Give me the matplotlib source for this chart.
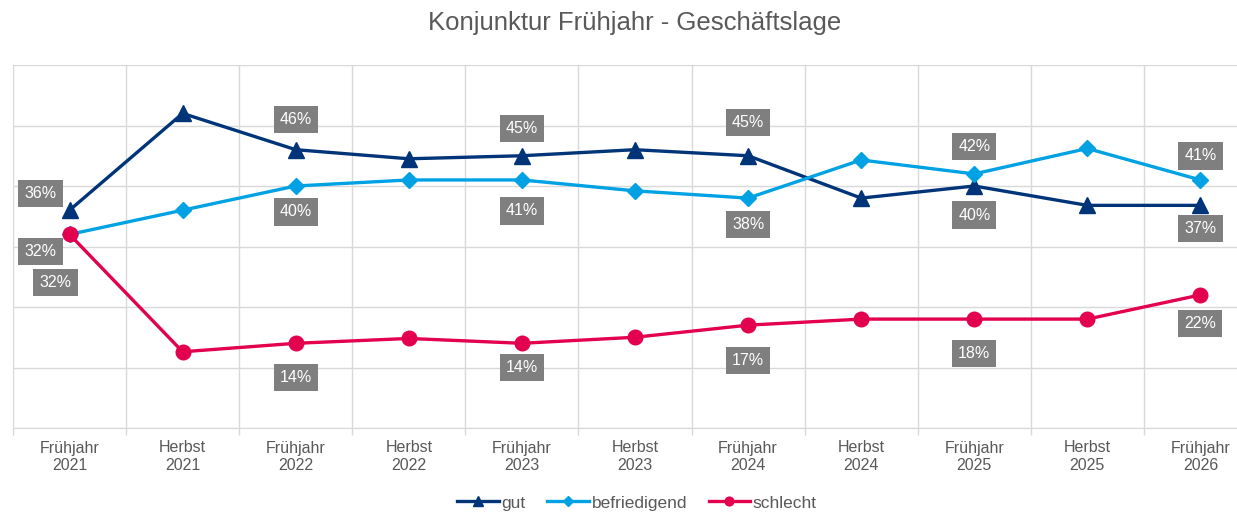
import numpy as np
import matplotlib.pyplot as plt
from matplotlib.ticker import FixedLocator

plt.rcParams['font.family'] = ['Liberation Sans', 'DejaVu Sans']

# data (percent)
categories = ["Frühjahr\n2021", "Herbst\n2021", "Frühjahr\n2022", "Herbst\n2022",
              "Frühjahr\n2023", "Herbst\n2023", "Frühjahr\n2024", "Herbst\n2024",
              "Frühjahr\n2025", "Herbst\n2025", "Frühjahr\n2026"]
gut = [36, 52, 46, 44.5, 45, 46, 45, 38, 40, 36.8, 36.8]
befriedigend = [32, 36, 40, 41, 41, 39.2, 38, 44.3, 42, 46.2, 41]
schlecht = [32, 12.6, 14, 14.8, 14, 15, 17, 18, 18, 18, 22]

# labels only on the spring surveys
label_idx = [0, 2, 4, 6, 8, 10]

# label offsets in pixels (dx, dy) per series, same order as label_idx
gut_off = [(-29, 17), (0, 30), (0, 27), (0, 33), (0, -29), (0, -23)]
bef_off = [(-29, -17), (0, -26), (0, -31), (0, -26), (0, 27), (0, 24)]
sch_off = [(-14, -48), (0, -34), (0, -24), (0, -35), (0, -34), (0, -29)]

C_GUT = "#003479"
C_BEF = "#00A2E3"
C_SCH = "#E2004F"
TXT = "#595959"
GRID = "#D9D9D9"

W, H = 1237, 514
fig = plt.figure(figsize=(W / 100, H / 100), dpi=100)
ax = fig.add_axes([13 / W, (H - 428) / H, 1244 / W, 363 / H])

x = np.arange(len(categories))
ax.plot(x, gut, color=C_GUT, lw=2.4, marker="^", ms=11, label="gut", zorder=3)
ax.plot(x, befriedigend, color=C_BEF, lw=2.4, marker="D", ms=8, label="befriedigend", zorder=3)
ax.plot(x, schlecht, color=C_SCH, lw=2.4, marker="o", ms=10.5, label="schlecht", zorder=3)

box = dict(boxstyle="square,pad=0.38", fc="#7F7F7F", ec="none")
for series, offs in [(gut, gut_off), (befriedigend, bef_off), (schlecht, sch_off)]:
    for i, (dx, dy) in zip(label_idx, offs):
        ax.annotate(f"{round(series[i])}%", (x[i], series[i]),
                    xytext=(dx * 0.72, dy * 0.72), textcoords="offset points",
                    ha="center", va="center", fontsize=11.5, color="white",
                    bbox=box, zorder=5)

ax.set_xlim(-0.5, len(categories) - 0.5)
ax.set_ylim(0, 60)
ax.set_yticks(np.arange(0, 61, 10))
ax.tick_params(axis="y", left=False, labelleft=False)

ax.set_xticks(x)
ax.set_xticklabels(categories, fontsize=11.5, color=TXT, linespacing=1.25)
ax.xaxis.set_minor_locator(FixedLocator(np.arange(-0.5, len(categories), 1)))
ax.tick_params(axis="x", which="major", length=0, pad=9)
ax.tick_params(axis="x", which="minor", length=5, color=GRID, width=1)

ax.grid(axis="y", color=GRID, lw=1)
ax.grid(axis="x", which="minor", color=GRID, lw=1)
ax.set_axisbelow(True)
for s in ["top", "right", "left"]:
    ax.spines[s].set_visible(False)
ax.spines["bottom"].set_color(GRID)

fig.text(635 / W, 1 - 23 / H, "Konjunktur Frühjahr - Geschäftslage",
         ha="center", va="center", fontsize=18.5, color=TXT)

leg = fig.legend(loc="center", bbox_to_anchor=(637 / W, 1 - 503 / H), ncol=3,
                 frameon=False, fontsize=12.5, markerscale=0.6, handlelength=2.4,
                 handletextpad=0.15, columnspacing=1.25)
for t in leg.get_texts():
    t.set_color(TXT)

fig.savefig("out.png", dpi=100)
